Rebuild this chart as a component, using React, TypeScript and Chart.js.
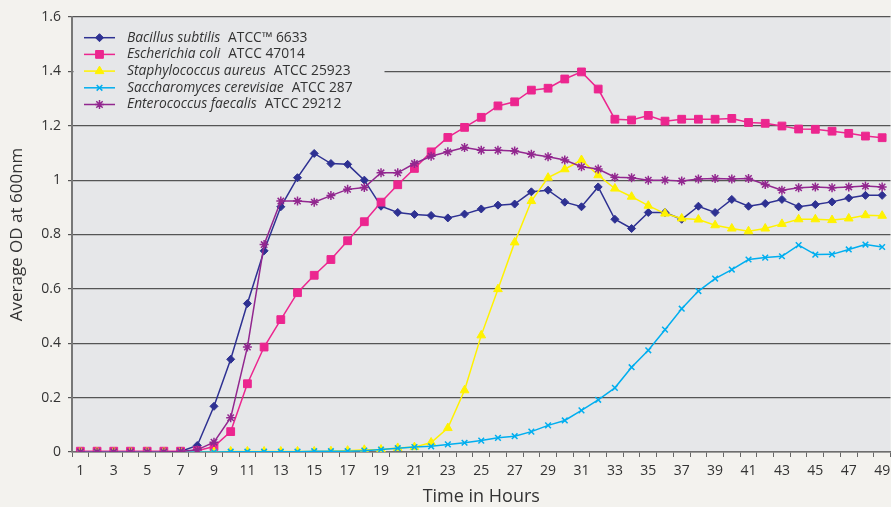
import React, { useEffect, useRef } from 'react';
import { Chart, registerables } from 'chart.js';
import { drawPoint } from 'chart.js/helpers';

Chart.register(...registerables);

const hours = ['1','2','3','4','5','6','7','8','9','10','11','12','13','14','15','16','17','18','19','20','21','22','23','24','25','26','27','28','29','30','31','32','33','34','35','36','37','38','39','40','41','42','43','44','45','46','47','48','49'];

const bacillus = [0,0,0,0,0,0,0.002,0.024,0.168,0.341,0.546,0.740,0.902,1.009,1.098,1.061,1.058,1.0,0.904,0.881,0.874,0.870,0.861,0.875,0.894,0.908,0.912,0.957,0.963,0.919,0.902,0.975,0.856,0.822,0.881,0.881,0.856,0.904,0.881,0.929,0.904,0.914,0.929,0.902,0.910,0.920,0.934,0.944,0.944];
const ecoli = [0.003,0.003,0.003,0.003,0.003,0.003,0.003,0.005,0.02,0.075,0.251,0.386,0.487,0.586,0.650,0.708,0.777,0.847,0.919,0.983,1.043,1.104,1.157,1.194,1.231,1.273,1.288,1.331,1.338,1.372,1.398,1.335,1.224,1.221,1.238,1.217,1.224,1.224,1.224,1.227,1.212,1.209,1.199,1.188,1.187,1.180,1.172,1.162,1.156];
const staph = [0,0,0,0,0,0,0,0,0,0.002,0.002,0.002,0.002,0.002,0.002,0.003,0.005,0.008,0.009,0.015,0.018,0.035,0.088,0.227,0.429,0.599,0.771,0.923,1.009,1.040,1.074,1.018,0.969,0.939,0.906,0.877,0.859,0.855,0.834,0.822,0.812,0.822,0.839,0.856,0.856,0.853,0.859,0.871,0.869];
const sacch = [0,0,0,0,0,0,0,0,0,0.001,0.001,0.001,0.001,0.001,0.003,0.003,0.003,0.005,0.009,0.014,0.018,0.021,0.028,0.034,0.042,0.052,0.058,0.075,0.098,0.116,0.153,0.192,0.236,0.312,0.374,0.450,0.527,0.592,0.638,0.671,0.708,0.715,0.720,0.761,0.726,0.727,0.745,0.763,0.754];
const entero = [0,0,0,0,0,0,0.002,0.008,0.036,0.126,0.386,0.763,0.923,0.923,0.919,0.943,0.966,0.973,1.027,1.027,1.061,1.088,1.104,1.120,1.110,1.110,1.107,1.095,1.086,1.074,1.049,1.041,1.011,1.009,1.0,1.0,0.997,1.004,1.006,1.004,1.006,0.984,0.963,0.972,0.975,0.972,0.975,0.978,0.975];

const speciesNames = ['Bacillus subtilis', 'Escherichia coli', 'Staphylococcus aureus', 'Saccharomyces cerevisiae', 'Enterococcus faecalis'];
const strainNames = ['ATCC\u2122 6633', 'ATCC 47014', 'ATCC 25923', 'ATCC 287', 'ATCC 29212'];
const seriesValues = [bacillus, ecoli, staph, sacch, entero];

const colors = ['#2e3192', '#ec268f', '#fff200', '#00aeef', '#92278f'];
const pointStyles = ['rectRot', 'rect', 'triangle', 'crossRot', 'star'];
const pointRadii = [4, 5.5, 5, 4, 4.5];

const FONT = '"Open Sans", "Noto Sans", sans-serif';
const OUTER_BG = '#f3f2ee';
const PLOT_BG = '#e6e7e9';

const bgPlugin = {
  id: 'bgPlugin',
  beforeDraw(chart: any) {
    const { ctx, chartArea: ca } = chart;
    ctx.save();
    ctx.fillStyle = OUTER_BG;
    ctx.fillRect(0, 0, chart.width, chart.height);
    ctx.fillStyle = PLOT_BG;
    ctx.fillRect(ca.left, ca.top, ca.right - ca.left, ca.bottom - ca.top);
    ctx.restore();
  },
};

const legendPlugin = {
  id: 'customLegend',
  afterDraw(chart: any) {
    const { ctx, chartArea: ca } = chart;
    ctx.save();
    ctx.fillStyle = PLOT_BG;
    ctx.fillRect(ca.left + 1.5, ca.top + 1, 311, 100);
    chart.data.datasets.forEach((ds: any, i: number) => {
      const y = ca.top + 20.7 + i * 16.7;
      const x0 = ca.left + 12;
      ctx.strokeStyle = ds.borderColor;
      ctx.lineWidth = 1.5;
      ctx.beginPath();
      ctx.moveTo(x0, y);
      ctx.lineTo(x0 + 31, y);
      ctx.stroke();
      ctx.fillStyle = ds.pointBackgroundColor;
      ctx.strokeStyle = ds.pointBorderColor;
      ctx.lineWidth = ds.pointBorderWidth;
      drawPoint(ctx, { pointStyle: ds.pointStyle, radius: ds.pointRadius, borderWidth: ds.pointBorderWidth, rotation: 0 }, x0 + 15.5, y);
      ctx.fillStyle = '#333333';
      ctx.textBaseline = 'middle';
      ctx.textAlign = 'left';
      ctx.font = `italic 13.8px ${FONT}`;
      const tx = ca.left + 55;
      ctx.fillText(speciesNames[i], tx, y);
      const w = ctx.measureText(speciesNames[i]).width;
      ctx.font = `13.8px ${FONT}`;
      ctx.fillText(strainNames[i], tx + w + 8, y);
    });
    ctx.restore();
  },
};

export default function App() {
  const ref = useRef<HTMLCanvasElement | null>(null);
  useEffect(() => {
    if (!ref.current) return;
    const chart = new Chart(ref.current, {
      type: 'line',
      data: {
        labels: hours,
        datasets: seriesValues.map((vals, i) => ({
          label: speciesNames[i] + ' ' + strainNames[i],
          data: vals,
          borderColor: colors[i],
          backgroundColor: colors[i],
          pointBackgroundColor: colors[i],
          pointBorderColor: colors[i],
          pointBorderWidth: i >= 3 ? 1.5 : 1,
          pointStyle: pointStyles[i],
          pointRadius: pointRadii[i],
          borderWidth: 1.5,
          tension: 0,
          fill: false,
          order: 5 - i,
        })),
      },
      options: {
        responsive: false,
        animation: false,
        layout: { padding: { top: 17, left: 0, right: 0, bottom: 0 } },
        plugins: { legend: { display: false }, tooltip: { enabled: false } },
        scales: {
          x: {
            type: 'category',
            offset: true,
            grid: { drawOnChartArea: false, drawTicks: true, tickLength: 5, color: '#666', offset: true },
            border: { display: true, color: '#6e6e6e', width: 1.5 },
            ticks: {
              autoSkip: false,
              maxRotation: 0,
              minRotation: 0,
              padding: 6,
              color: '#333',
              font: { family: FONT, size: 14 },
              callback: (_v: any, idx: number) => (idx % 2 === 0 ? hours[idx] : ''),
            },
            title: { display: true, text: 'Time in Hours', color: '#333', font: { family: FONT, size: 18, lineHeight: 1.1 }, padding: { top: 0, bottom: 0 } },
            afterFit: (s: any) => { s.height = 55; },
          },
          y: {
            min: 0,
            max: 1.6,
            ticks: {
              stepSize: 0.2,
              padding: 7,
              color: '#333',
              font: { family: FONT, size: 14 },
              callback: (v: any) => String(Math.round(Number(v) * 10) / 10),
            },
            grid: { color: '#555', lineWidth: 1.2, tickLength: 4 },
            border: { display: true, color: '#777', width: 2 },
            title: { display: true, text: 'Average OD at 600nm', color: '#333', font: { family: FONT, size: 17, lineHeight: 1.2 }, padding: { top: 7, bottom: 0 } },
            afterFit: (s: any) => { s.width = 72; },
          },
        },
      },
      plugins: [bgPlugin, legendPlugin],
    } as any);
    return () => chart.destroy();
  }, []);
  return (
    <div style={{ position: 'absolute', left: 0, top: 0, width: 891, height: 507, overflow: 'hidden', background: OUTER_BG }}>
      <canvas ref={ref} width={897} height={507} style={{ width: 897, height: 507, display: 'block' }} />
    </div>
  );
}
